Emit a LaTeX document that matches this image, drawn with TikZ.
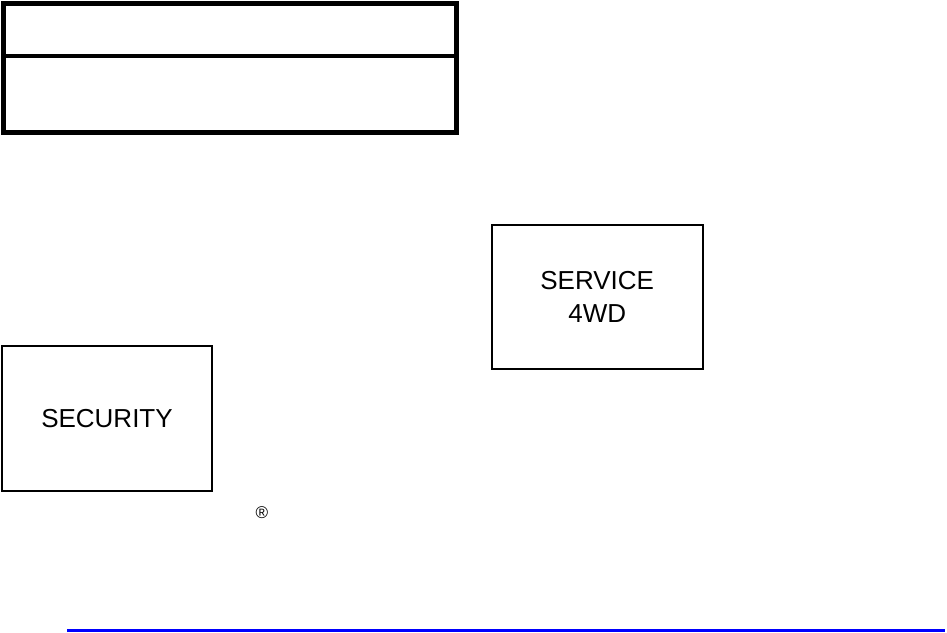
\documentclass[tikz,border=0pt]{standalone}
\usepackage{fontspec}
\setmainfont{Liberation Sans}
\begin{document}
\begin{tikzpicture}[x=1pt,y=-1pt,
  cell/.style={draw=black,line width=4.4pt,rectangle,inner sep=0pt,minimum width=453pt},
  lamp/.style={draw=black,line width=1.9pt,rectangle,inner sep=0pt,align=center,
    font=\fontsize{26}{33}\selectfont},
  rule/.style={draw={rgb,255:red,0;green,0;blue,255},line width=3pt}]
\useasboundingbox (0,0) rectangle (947,632);
\node[cell,minimum height=52.5pt] (top) at (230,29.75) {};
\node[cell,minimum height=76.5pt] (bottom) at (230,94.25) {};
\node[lamp,minimum width=210.3pt,minimum height=145pt] (security) at (107,418.5) {SECURITY};
\node[lamp,minimum width=211pt,minimum height=144pt] (service) at (597.2,297) {SERVICE\\4WD};
\node[inner sep=0pt,font=\fontsize{17}{19}\selectfont] (reg) at (262,513) {\textregistered};
\coordinate (ruleL) at (67,630.3);
\coordinate (ruleR) at (945,630.3);
\draw[rule] (ruleL) -- (ruleR);
\end{tikzpicture}
\end{document}
